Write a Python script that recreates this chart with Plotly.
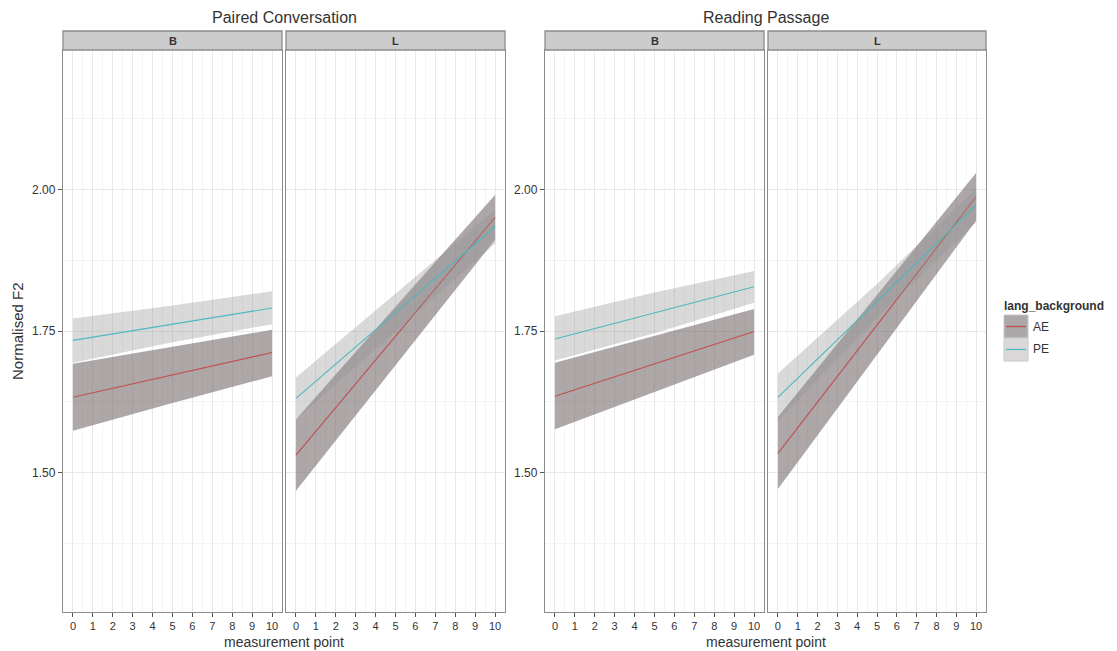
import plotly.graph_objects as go

W, H = 1117, 651

# ---- data ----
x_pts = [0, 5, 10]
x_ticks = list(range(0, 11))
y_ticks = [1.50, 1.75, 2.00]
groups = ["AE", "PE"]
facets = ["B", "L"]
tasks = ["Paired Conversation", "Reading Passage"]

# Paired Conversation, B
pc_b_ae_fit = [1.633, 1.6725, 1.712]
pc_b_ae_lo = [1.574, 1.623, 1.670]
pc_b_ae_hi = [1.692, 1.722, 1.752]
pc_b_pe_fit = [1.7335, 1.762, 1.7905]
pc_b_pe_lo = [1.694, 1.730, 1.762]
pc_b_pe_hi = [1.772, 1.795, 1.820]
# Paired Conversation, L
pc_l_ae_fit = [1.531, 1.741, 1.9506]
pc_l_ae_lo = [1.468, 1.689, 1.911]
pc_l_ae_hi = [1.594, 1.793, 1.990]
pc_l_pe_fit = [1.631, 1.7825, 1.934]
pc_l_pe_lo = [1.594, 1.7495, 1.904]
pc_l_pe_hi = [1.668, 1.8155, 1.964]
# Reading Passage, B
rp_b_ae_fit = [1.635, 1.692, 1.749]
rp_b_ae_lo = [1.5765, 1.642, 1.708]
rp_b_ae_hi = [1.694, 1.742, 1.789]
rp_b_pe_fit = [1.736, 1.782, 1.828]
rp_b_pe_lo = [1.698, 1.746, 1.800]
rp_b_pe_hi = [1.776, 1.818, 1.856]
# Reading Passage, L
rp_l_ae_fit = [1.534, 1.7605, 1.987]
rp_l_ae_lo = [1.471, 1.708, 1.945]
rp_l_ae_hi = [1.598, 1.813, 2.029]
rp_l_pe_fit = [1.633, 1.8025, 1.972]
rp_l_pe_lo = [1.591, 1.773, 1.942]
rp_l_pe_hi = [1.675, 1.833, 2.002]

panels = [
    (tasks[0], facets[0], (pc_b_ae_fit, pc_b_ae_lo, pc_b_ae_hi), (pc_b_pe_fit, pc_b_pe_lo, pc_b_pe_hi)),
    (tasks[0], facets[1], (pc_l_ae_fit, pc_l_ae_lo, pc_l_ae_hi), (pc_l_pe_fit, pc_l_pe_lo, pc_l_pe_hi)),
    (tasks[1], facets[0], (rp_b_ae_fit, rp_b_ae_lo, rp_b_ae_hi), (rp_b_pe_fit, rp_b_pe_lo, rp_b_pe_hi)),
    (tasks[1], facets[1], (rp_l_ae_fit, rp_l_ae_lo, rp_l_ae_hi), (rp_l_pe_fit, rp_l_pe_lo, rp_l_pe_hi)),
]

# ---- styling ----
FONT = "Liberation Sans, Arial, sans-serif"
line_col = {"AE": "#c0504d", "PE": "#4db8bd"}
fill_col = {"AE": "rgba(105,95,97,0.55)", "PE": "rgba(150,145,145,0.35)"}
BORDER = "#8c8c8c"
GRID = "#e8e8e8"
MINOR = "#f4f4f4"
TXT = "#333333"

# pixel boxes of the panels
px_x = [(63, 282), (286, 505), (545, 764), (768, 986)]
py_top, py_bot = 50, 612
strip_top = 31

def fx(px):
    return px / W

def fy(py):
    return 1 - py / H

fig = go.Figure()
shapes = []
annotations = []

for i, (task, facet, ae, pe) in enumerate(panels):
    n = i + 1
    xa = "x" if n == 1 else f"x{n}"
    ya = "y" if n == 1 else f"y{n}"
    for g, (fit, lo, hi) in zip(groups, [ae, pe]):
        fig.add_trace(go.Scatter(
            x=x_pts + x_pts[::-1], y=lo + hi[::-1], fill="toself",
            fillcolor=fill_col[g], line=dict(width=0), mode="lines",
            hoverinfo="skip", showlegend=False, xaxis=xa, yaxis=ya))
        fig.add_trace(go.Scatter(
            x=x_pts, y=fit, mode="lines", line=dict(color=line_col[g], width=1.1),
            name=g, showlegend=False, xaxis=xa, yaxis=ya))

    x0, x1 = px_x[i]
    show_y = facet == "B"
    axx = dict(
        domain=[fx(x0), fx(x1)], range=[-0.5, 10.5], anchor=ya,
        tickmode="array", tickvals=x_ticks, ticktext=[str(t) for t in x_ticks],
        ticks="outside", ticklen=4, tickcolor="#555555", tickwidth=1,
        tickfont=dict(family=FONT, size=11, color=TXT),
        showgrid=True, gridcolor=GRID, gridwidth=1,
        minor=dict(dtick=0.5, tick0=0, showgrid=True, gridcolor=MINOR, gridwidth=1),
        showline=True, mirror=True, linecolor=BORDER, linewidth=1.3,
        zeroline=False, fixedrange=True,
    )
    axy = dict(
        domain=[fy(py_bot), fy(py_top)], range=[1.254, 2.246], anchor=xa,
        tickmode="array", tickvals=y_ticks, ticktext=[f"{v:.2f}" for v in y_ticks],
        showticklabels=show_y, ticks="outside" if show_y else "",
        ticklen=4, tickcolor="#555555", tickwidth=1,
        tickfont=dict(family=FONT, size=12, color=TXT),
        showgrid=True, gridcolor=GRID, gridwidth=1,
        minor=dict(dtick=0.125, tick0=1.5, showgrid=True, gridcolor=MINOR, gridwidth=1),
        showline=True, mirror=True, linecolor=BORDER, linewidth=1.3,
        zeroline=False, fixedrange=True,
    )
    fig.layout[("xaxis" if n == 1 else f"xaxis{n}")] = axx
    fig.layout[("yaxis" if n == 1 else f"yaxis{n}")] = axy

    # strip
    shapes.append(dict(type="rect", xref="paper", yref="paper",
                       x0=fx(x0), x1=fx(x1), y0=fy(py_top), y1=fy(strip_top),
                       fillcolor="#cccccc", line=dict(color=BORDER, width=1.3)))
    annotations.append(dict(text=f"<b>{facet}</b>", xref="paper", yref="paper",
                            x=fx((x0 + x1) / 2), y=fy((strip_top + py_top) / 2),
                            showarrow=False, xanchor="center", yanchor="middle",
                            font=dict(family=FONT, size=11, color=TXT)))

# group titles and x titles
for k, task in enumerate(tasks):
    xl = px_x[2 * k][0]
    xr = px_x[2 * k + 1][1]
    cx = fx((xl + xr) / 2)
    annotations.append(dict(text=task, xref="paper", yref="paper", x=cx, y=fy(18),
                            showarrow=False, xanchor="center", yanchor="middle",
                            font=dict(family=FONT, size=16, color=TXT)))
    annotations.append(dict(text="measurement point", xref="paper", yref="paper",
                            x=cx, y=fy(642), showarrow=False, xanchor="center",
                            yanchor="middle", font=dict(family=FONT, size=14, color=TXT)))

annotations.append(dict(text="Normalised F2", xref="paper", yref="paper",
                        x=fx(18), y=fy((py_top + py_bot) / 2), textangle=-90,
                        showarrow=False, xanchor="center", yanchor="middle",
                        font=dict(family=FONT, size=15, color=TXT)))

# legend (drawn manually, ggplot style)
annotations.append(dict(text="<b>lang_background</b>", xref="paper", yref="paper",
                        x=fx(1002), y=fy(306), showarrow=False, xanchor="left",
                        yanchor="middle", font=dict(family=FONT, size=12, color=TXT)))
leg_fill = {"AE": "#aca7a8", "PE": "#dad8d8"}
for j, g in enumerate(groups):
    ky0 = 315 + j * 23
    ky1 = ky0 + 23
    shapes.append(dict(type="rect", xref="paper", yref="paper",
                       x0=fx(1004), x1=fx(1028), y0=fy(ky1), y1=fy(ky0),
                       fillcolor=leg_fill[g], line=dict(color="#c8c8c8", width=1)))
    shapes.append(dict(type="line", xref="paper", yref="paper",
                       x0=fx(1006), x1=fx(1026), y0=fy((ky0 + ky1) / 2), y1=fy((ky0 + ky1) / 2),
                       line=dict(color=line_col[g], width=1.3)))
    annotations.append(dict(text=g, xref="paper", yref="paper", x=fx(1031),
                            y=fy((ky0 + ky1) / 2), showarrow=False, xanchor="left",
                            yanchor="middle", font=dict(family=FONT, size=12, color=TXT)))

fig.update_layout(
    width=W, height=H, autosize=False,
    margin=dict(l=0, r=0, t=0, b=0),
    paper_bgcolor="white", plot_bgcolor="white",
    shapes=shapes, annotations=annotations, showlegend=False,
    font=dict(family=FONT, color=TXT),
)

fig.write_html(
    "out.html",
    config={"displayModeBar": False},
    post_script="document.body.style.margin='0';document.body.style.padding='0';"
                "document.body.style.overflow='hidden';",
)
